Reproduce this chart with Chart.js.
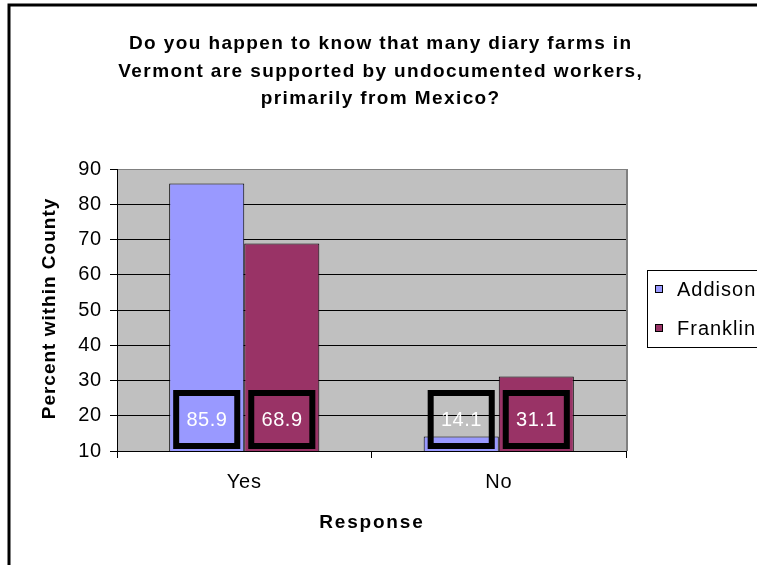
<!DOCTYPE html>
<html>
<head>
<meta charset="utf-8">
<title>Diary farms survey</title>
<script src="https://cdn.jsdelivr.net/npm/chart.js@4/dist/chart.umd.min.js"></script>
<style>
    body { margin: 0; background: #fff; }
    #chartvas { display: block; }
</style>
</head>
<body>
<canvas id="chartvas" width="757" height="565"></canvas>
<script>
'use strict';

// ---- data ----
const categories = ['Yes', 'No'];
const addison = [85.9, 14.1];
const franklin = [68.9, 31.1];
const seriesNames = ['Addison', 'Franklin'];
const seriesColors = ['#9999FF', '#993366'];
const titleLines = [
    'Do you happen to know that many diary farms in',
    'Vermont are supported by undocumented workers,',
    'primarily from Mexico?'
];
const yTitle = 'Percent within County';
const xTitle = 'Response';

const FONT = '"Liberation Sans", Arial, sans-serif';

// centred text that keeps its letter spacing balanced
function spacedText(ctx, text, x, y, spacing) {
    ctx.letterSpacing = spacing + 'px';
    ctx.fillText(text, x + spacing / 2, y);
    ctx.letterSpacing = '0px';
}

// ================ plot background + frame =================

const plotBackground = {
    id: 'plotBackground',
    beforeDraw(chart) {
        const { ctx, chartArea: a } = chart;
        // slightly wider letters for the tick labels drawn by the scales
        ctx.letterSpacing = '0.8px';
        ctx.save();
        ctx.fillStyle = '#fff';
        ctx.fillRect(0, 0, chart.width, chart.height);
        ctx.fillStyle = '#C0C0C0';
        ctx.fillRect(a.left, a.top, a.right - a.left, a.bottom - a.top);
        // outer border (only top + left end up inside the canvas)
        ctx.strokeStyle = '#000';
        ctx.lineWidth = 3;
        ctx.strokeRect(9, 5, 800, 600);
        ctx.restore();
    },
    beforeDatasetsDraw(chart) {
        const { ctx, chartArea: a } = chart;
        ctx.save();
        ctx.strokeStyle = '#808080';
        ctx.lineWidth = 2;
        ctx.beginPath();
        ctx.moveTo(a.right + 1, a.top);
        ctx.lineTo(a.right + 1, a.bottom);
        ctx.stroke();
        ctx.restore();
    }
};

// ================ value boxes at the base of each bar =================

const valueBoxes = {
    id: 'valueBoxes',
    afterDatasetsDraw(chart) {
        const { ctx, chartArea: a } = chart;
        ctx.save();
        chart.data.datasets.forEach((ds, i) => {
            chart.getDatasetMeta(i).data.forEach((bar, j) => {
                const w = bar.width - 8;
                const left = bar.x - w / 2;
                const bottom = a.bottom - 2;
                const top = bottom - 59;
                ctx.strokeStyle = '#000';
                ctx.lineWidth = 6;
                ctx.strokeRect(left + 3, top + 3, w - 6, bottom - top - 6);
                ctx.fillStyle = '#fff';
                ctx.font = '20px ' + FONT;
                ctx.textAlign = 'center';
                ctx.textBaseline = 'middle';
                spacedText(ctx, String(ds.data[j]), bar.x, (top + bottom) / 2 + 1, 0.5);
            });
        });
        ctx.restore();
    }
};

// ================ titles + legend =================

const chartTexts = {
    id: 'chartTexts',
    afterDraw(chart) {
        const { ctx } = chart;
        ctx.save();
        ctx.fillStyle = '#000';
        ctx.textAlign = 'center';
        ctx.textBaseline = 'middle';
        ctx.font = 'bold 19px ' + FONT;
        titleLines.forEach((line, i) => spacedText(ctx, line, 380, 44 + i * 27.5, 1.4));
        spacedText(ctx, xTitle, 371, 523, 1.8);

        ctx.save();
        ctx.translate(50, 309);
        ctx.rotate(-Math.PI / 2);
        spacedText(ctx, yTitle, 0, 0, 1);
        ctx.restore();

        // legend box
        ctx.strokeStyle = '#000';
        ctx.lineWidth = 1;
        ctx.strokeRect(647.5, 270.5, 120, 77);
        ctx.font = '20px ' + FONT;
        ctx.textAlign = 'left';
        ctx.letterSpacing = '1px';
        seriesNames.forEach((name, i) => {
            const y = 289 + i * 39;
            ctx.fillStyle = seriesColors[i];
            ctx.fillRect(655, y - 4, 8, 8);
            ctx.strokeRect(655.5, y - 3.5, 7, 7);
            ctx.fillStyle = '#000';
            ctx.fillText(name, 677, y + 1);
        });
        ctx.restore();
    }
};

// ================ chart =================

const datasets = [addison, franklin].map((values, i) => ({
    label: seriesNames[i],
    data: values,
    backgroundColor: seriesColors[i],
    borderColor: '#000',
    borderWidth: 1,
    barPercentage: 1,
    categoryPercentage: 0.59
}));

new Chart(document.getElementById('chartvas'), {
    type: 'bar',
    data: { labels: categories, datasets },
    options: {
        responsive: false,
        animation: false,
        events: [],
        layout: { padding: { top: 169, right: 131, left: 0, bottom: 0 } },
        plugins: {
            legend: { display: false },
            title: { display: false },
            tooltip: { enabled: false }
        },
        scales: {
            x: {
                afterFit: scale => { scale.height = 114; },
                grid: { drawOnChartArea: false, color: '#000', tickLength: 7 },
                border: { color: '#000', width: 1 },
                ticks: { color: '#000', font: { family: FONT, size: 20 }, padding: 12 }
            },
            y: {
                min: 10,
                max: 90,
                afterFit: scale => { scale.width = 117; },
                grid: {
                    color: ctx => ctx.tick && ctx.tick.value === 90 ? '#808080' : '#000',
                    tickColor: '#000',
                    tickLength: 7
                },
                border: { color: '#000', width: 1 },
                ticks: { stepSize: 10, color: '#000', font: { family: FONT, size: 20 }, padding: 8 }
            }
        }
    },
    plugins: [plotBackground, valueBoxes, chartTexts]
});
</script>
</body>
</html>
